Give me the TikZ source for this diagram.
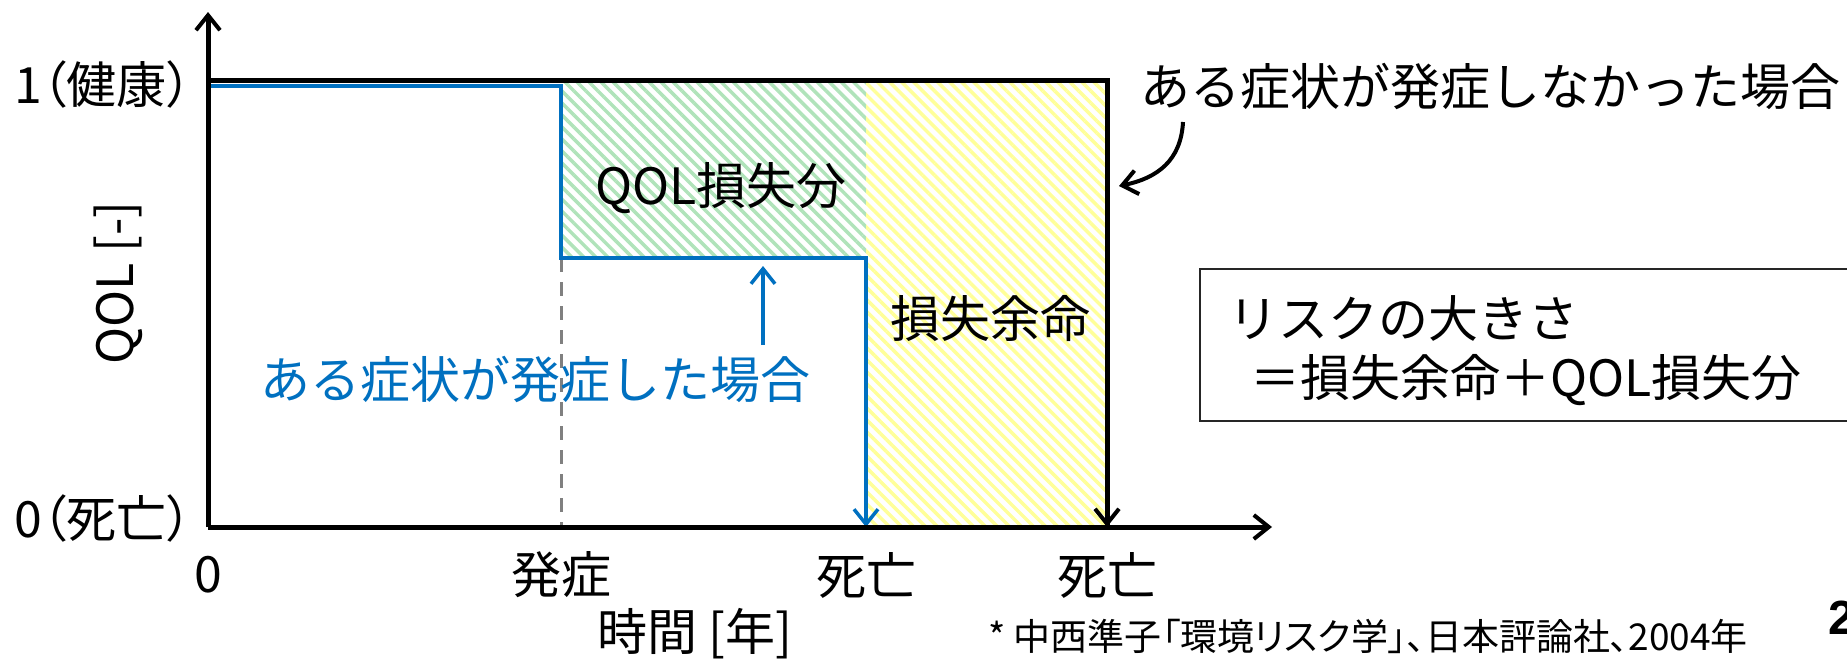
\documentclass[tikz,border=0pt]{standalone}
\usepackage{fontspec}
\setmainfont{Noto Sans CJK JP}
\newfontfamily\pfont{Noto Sans CJK JP}[RawFeature=+palt]
\newfontfamily\libfont{Liberation Sans}
\usetikzlibrary{arrows.meta,patterns.meta}
\definecolor{qblue}{HTML}{0070C0}
\definecolor{hgreen}{HTML}{B0E3BA}
\definecolor{hyellow}{HTML}{FFFF99}
\begin{document}
\begin{tikzpicture}[x=1pt,y=-1pt,
  lbl/.style={font=\fontsize{50}{60}\selectfont, inner sep=0pt},
  plbl/.style={font=\pfont\fontsize{50}{60}\selectfont, inner sep=0pt},
  barb/.style={-{Straight Barb[length=15pt,width=24pt,line width=4pt]}},
  axisline/.style={line width=5pt, barb},
  hatchg/.style={pattern={Lines[angle=-45,distance=8.5pt,line width=3.5pt]}, pattern color=hgreen},
  hatchy/.style={pattern={Lines[angle=-45,distance=8.5pt,line width=3.5pt]}, pattern color=hyellow},
  healthy/.style={line width=5pt, black},
  sick/.style={line width=4.5pt, qblue},
]
\useasboundingbox (0,0) rectangle (1847,659);
\clip (0,0) rectangle (1847,659);

% hatched areas
\fill[hatchg] (561,80) rectangle (866,258);
\fill[hatchy] (866,80) rectangle (1107,527);

% coordinates
\coordinate (O) at (208,527);
\coordinate (ytop) at (208,12);
\coordinate (xend) at (1272,527);
\coordinate (h0) at (208,80);
\coordinate (h1) at (1107,80);
\coordinate (hd) at (1107,527);
\coordinate (b0) at (208,86);
\coordinate (b1) at (561,86);
\coordinate (b2) at (561,258);
\coordinate (b3) at (866,258);
\coordinate (bd) at (866,527);
\coordinate (d0) at (561,258);
\coordinate (d1) at (561,527);
\coordinate (ua0) at (763,345);
\coordinate (ua1) at (763,266);
\coordinate (ca0) at (1183,122);
\coordinate (ca1) at (1119,186);

% dashed onset line
\draw[gray, line width=3pt, dash pattern=on 14pt off 10pt] (d0) -- (d1);

% blue (symptom) path
\draw[sick, line cap=butt] (b0) -- (b1) -- (b2) -- (b3) -- (bd);
\draw[sick, -{Straight Barb[length=15pt,width=24pt,line width=3.5pt]}] (b3) -- (bd);
\draw[sick, -{Straight Barb[length=15pt,width=24pt,line width=3.5pt]}] (ua0) -- (ua1);

% black (healthy) path
\draw[healthy] (h0) -- (h1) -- (hd);
\draw[healthy, barb] (h1) -- (hd);

% axes
\draw[axisline] (O) -- (ytop);
\draw[axisline] (O) -- (xend);

% curved arrow
\draw[line width=4pt, barb] (ca0) .. controls (1181,160) and (1158,178) .. (ca1);

% labels
\node[plbl, anchor=east] (l1) at (192,84) {1（健康）};
\node[plbl, anchor=east] (l0) at (192,518) {0（死亡）};
\node[lbl] (t0) at (208,575) {0};
\node[lbl] (tons) at (561,575) {発症};
\node[lbl] (td1) at (866,575) {死亡};
\node[lbl] (td2) at (1107,575) {死亡};
\node[lbl] (xl) at (695,634) {時間 [年]};
\node[lbl, rotate=90] (yl) at (118,283) {QOL [-]};
\node[lbl] (qloss) at (721,188) {QOL損失分};
\node[lbl] (lle) at (990,318) {損失余命};
\node[lbl, text=qblue] (bt) at (535,379) {ある症状が発症した場合};
\node[lbl] (nt) at (1490,86) {ある症状が発症しなかった場合};

% risk box
\node[draw=black!85, line width=2pt, anchor=north west, minimum width=670pt, minimum height=152pt, inner sep=0pt] (box) at (1199,268) {};
\node[lbl, anchor=west] (r1) at (1228,318) {リスクの大きさ};
\node[lbl, anchor=west] (r2) at (1250,380) {＝損失余命＋QOL損失分};

% footnote and page number
\node[font=\pfont\fontsize{37}{44}\selectfont, inner sep=0pt] (fn) at (1368,636) {* 中西準子「環境リスク学」、日本評論社、2004年};
\node[font=\libfont\bfseries\fontsize{48}{58}\selectfont, anchor=west, inner sep=0pt] (pg) at (1828,618) {2};
\end{tikzpicture}
\end{document}
